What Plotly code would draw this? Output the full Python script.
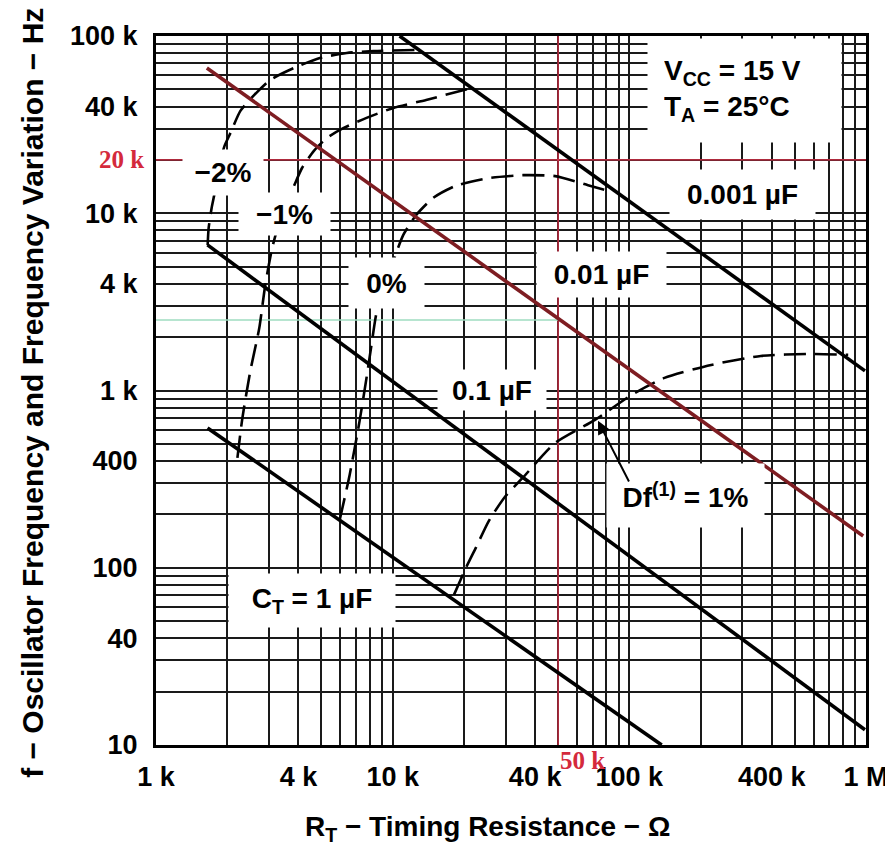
import numpy as np
import plotly.graph_objects as go

# ---------------- data ----------------
# Solid lines: oscillator frequency (Hz) vs timing resistance (ohm), per timing capacitor
rt_c0001 = [10700, 990000]
f_c0001 = [100000, 1290]
rt_c001 = [1640, 973000]
f_c001 = [66000, 151]
rt_c01 = [1650, 990000]
f_c01 = [6630, 12.2]
rt_c1 = [1650, 137000]
f_c1 = [615, 10]

# Dashed frequency-variation contours
rt_dm2 = [1653, 1669, 1718, 1769, 1838, 1948, 2064, 2273, 2603, 3038, 3831, 4925, 6393, 8299, 12800]
f_dm2 = [6625, 8262, 10700, 13000, 18000, 24000, 28400, 37800, 46500, 56500, 66000, 75100, 80200, 82300, 83400]

rt_dm1 = [2208, 2318, 2504, 2732, 2895, 3097, 3314, 3580, 3831, 4140, 4647, 5270, 6211, 7754, 10070, 13850, 21600]
f_dm1 = [417, 701, 1290, 2255, 3941, 6373, 8815, 11700, 14300, 18000, 22500, 26600, 30300, 34500, 39300, 43600, 50900]

rt_d0 = [5973, 6580, 7249, 7754, 8137, 8542, 9231, 10070, 11090, 12580, 14820, 18500, 25500, 35400, 48600, 66900, 81200]
f_d0 = [186, 334, 674, 1178, 1808, 2739, 3791, 5383, 7544, 9781, 12200, 14300, 15800, 16400, 16200, 14400, 13400]

rt_dp1 = [18150, 20400, 22450, 25500, 30000, 35400, 48600, 71600, 102300, 140800, 221700, 359400, 582800, 841000]
f_dp1 = [70.3, 99.9, 129.5, 184, 254, 321, 506, 683, 945, 1178, 1394, 1567, 1608, 1590]

# Reference markers drawn on the chart
ref_rt = 50000          # red vertical marker, ohm
ref_f = 20000           # red horizontal marker, Hz
ref_f_at_ref_rt = 2500  # green marker: 0.01 uF line at 50 k

# Arrow for Df note: tip / tail (ohm, Hz)
arrow_tip = (73700, 674)
arrow_tail = (100400, 301)

# Tick labels
x_tick_vals = [1e3, 4e3, 1e4, 4e4, 1e5, 4e5, 1e6]
x_tick_text = ["1 k", "4 k", "10 k", "40 k", "100 k", "400 k", "1 M"]
y_tick_vals = [10, 40, 100, 400, 1e3, 4e3, 1e4, 4e4, 1e5]
y_tick_text = ["10", "40", "100", "400", "1 k", "4 k", "10 k", "40 k", "100 k"]

# ---------------- figure ----------------
def grid_vals(lo_exp, hi_exp):
    vals = []
    for e in range(lo_exp, hi_exp):
        for m in range(1, 10):
            vals.append(m * 10 ** e)
    vals.append(10 ** hi_exp)
    return vals

def minor_only(grid, major):
    ms = set(float(v) for v in major)
    return [g for g in grid if float(g) not in ms]

xg = grid_vals(3, 6)
yg = grid_vals(1, 5)

fig = go.Figure()

REDTHIN = "#e0304a"
fig.add_trace(go.Scatter(x=[1e3, 1e6], y=[ref_f, ref_f], mode="lines",
                         line=dict(color=REDTHIN, width=1.3), hoverinfo="skip", showlegend=False))
fig.add_trace(go.Scatter(x=[ref_rt, ref_rt], y=[10, 1e5], mode="lines",
                         line=dict(color=REDTHIN, width=1.3), hoverinfo="skip", showlegend=False))
fig.add_trace(go.Scatter(x=[1e3, ref_rt], y=[ref_f_at_ref_rt, ref_f_at_ref_rt], mode="lines",
                         line=dict(color="#9fdcc0", width=1.6), hoverinfo="skip", showlegend=False))

for rx, fy in [(rt_c0001, f_c0001), (rt_c01, f_c01), (rt_c1, f_c1)]:
    fig.add_trace(go.Scatter(x=rx, y=fy, mode="lines", line=dict(color="black", width=3.6),
                             hoverinfo="skip", showlegend=False))

for rx, fy in [(rt_dm2, f_dm2), (rt_dm1, f_dm1), (rt_d0, f_d0), (rt_dp1, f_dp1)]:
    fig.add_trace(go.Scatter(x=rx, y=fy, mode="lines",
                             line=dict(color="black", width=2.6, dash="22px,9px",
                                       shape="spline", smoothing=0.6),
                             hoverinfo="skip", showlegend=False))

fig.add_trace(go.Scatter(x=rt_c001, y=f_c001, mode="lines", line=dict(color="#7e1d22", width=3.6),
                         hoverinfo="skip", showlegend=False))

FONT = "Liberation Sans"
GRID = "#1a1a1a"
tickfont = dict(family=FONT, size=27, color="black", weight="bold")
axis_common = dict(type="log", tickmode="array", showgrid=True, gridcolor=GRID, gridwidth=1.5,
                   showline=True, linecolor="black", linewidth=3, mirror=True, ticks="",
                   zeroline=False, tickfont=tickfont)

fig.update_layout(
    width=893, height=850,
    margin=dict(l=148, r=30, t=28, b=113),
    paper_bgcolor="white", plot_bgcolor="white",
    xaxis=dict(range=[3, 6], tickvals=x_tick_vals, ticktext=x_tick_text, ticklabelstandoff=6,
               minor=dict(tickmode="array", tickvals=minor_only(xg, x_tick_vals), showgrid=True,
                          gridcolor=GRID, gridwidth=1.5, ticks=""),
               **axis_common),
    yaxis=dict(range=[1, 5], tickvals=y_tick_vals, ticktext=y_tick_text, ticklabelstandoff=10,
               minor=dict(tickmode="array", tickvals=minor_only(yg, y_tick_vals), showgrid=True,
                          gridcolor=GRID, gridwidth=1.5, ticks=""),
               **axis_common),
)

lab_font = dict(family=FONT, size=28, color="black", weight="bold")
# label boxes: text, centre R (ohm), centre f (Hz), box width, box height (px)
labels = [
    ("−2%", 1910, 16900, 80, 45),
    ("−1%", 3477, 9908, 91, 42),
    ("0%", 9410, 4045, 75, 50),
    ("0.01 µF", 76600, 4487, 129, 45),
    ("0.001 µF", 302000, 12700, 145, 49),
    ("0.1 µF", 26200, 1008, 108, 40),
    ("C<sub>T</sub> = 1 µF", 4558, 65.1, 166, 53),
    ("Df<sup>(1)</sup> = 1%", 172500, 254, 157, 63),
]
annotations = []
for t, rx, fy, w, h in labels:
    annotations.append(dict(text=t, x=np.log10(rx), y=np.log10(fy), xref="x", yref="y",
                            showarrow=False, bgcolor="white", borderpad=0, width=w, height=h,
                            font=lab_font, xanchor="center", yanchor="middle"))

annotations.append(dict(text="V<sub>CC</sub> = 15 V<br>T<sub>A</sub> = 25°C",
                        x=np.log10(118300), y=np.log10(97500), xref="x", yref="y",
                        xanchor="left", yanchor="top", align="left", showarrow=False,
                        bgcolor="white", borderpad=16, width=161, font=lab_font))

annotations.append(dict(text="", x=np.log10(arrow_tip[0]), y=np.log10(arrow_tip[1]),
                        ax=np.log10(arrow_tail[0]), ay=np.log10(arrow_tail[1]),
                        xref="x", yref="y", axref="x", ayref="y", showarrow=True,
                        arrowhead=2, arrowsize=1.3, arrowwidth=2, arrowcolor="black"))

redfont = dict(family="Liberation Serif", size=25, color="#d42a3c", weight="bold")
annotations.append(dict(text="20 k", x=-0.014, y=np.log10(ref_f), xref="paper", yref="y",
                        xanchor="right", yanchor="middle", showarrow=False, font=redfont))
annotations.append(dict(text="50 k", x=np.log10(ref_rt), y=-0.022, xref="x", yref="paper",
                        xanchor="left", yanchor="middle", showarrow=False, font=redfont))

annotations.append(dict(text="f − Oscillator Frequency and Frequency Variation − Hz",
                        x=-0.1734, y=0.4965, xref="paper", yref="paper", textangle=-90,
                        xanchor="center", yanchor="middle", showarrow=False,
                        font=dict(family=FONT, size=30, color="black", weight="bold")))
annotations.append(dict(text="R<sub>T</sub> − Timing Resistance − Ω",
                        x=0.4671, y=-0.118, xref="paper", yref="paper",
                        xanchor="center", yanchor="middle", showarrow=False,
                        font=dict(family=FONT, size=28, color="black", weight="bold")))

fig.update_layout(annotations=annotations)
fig.write_html("out.html")
